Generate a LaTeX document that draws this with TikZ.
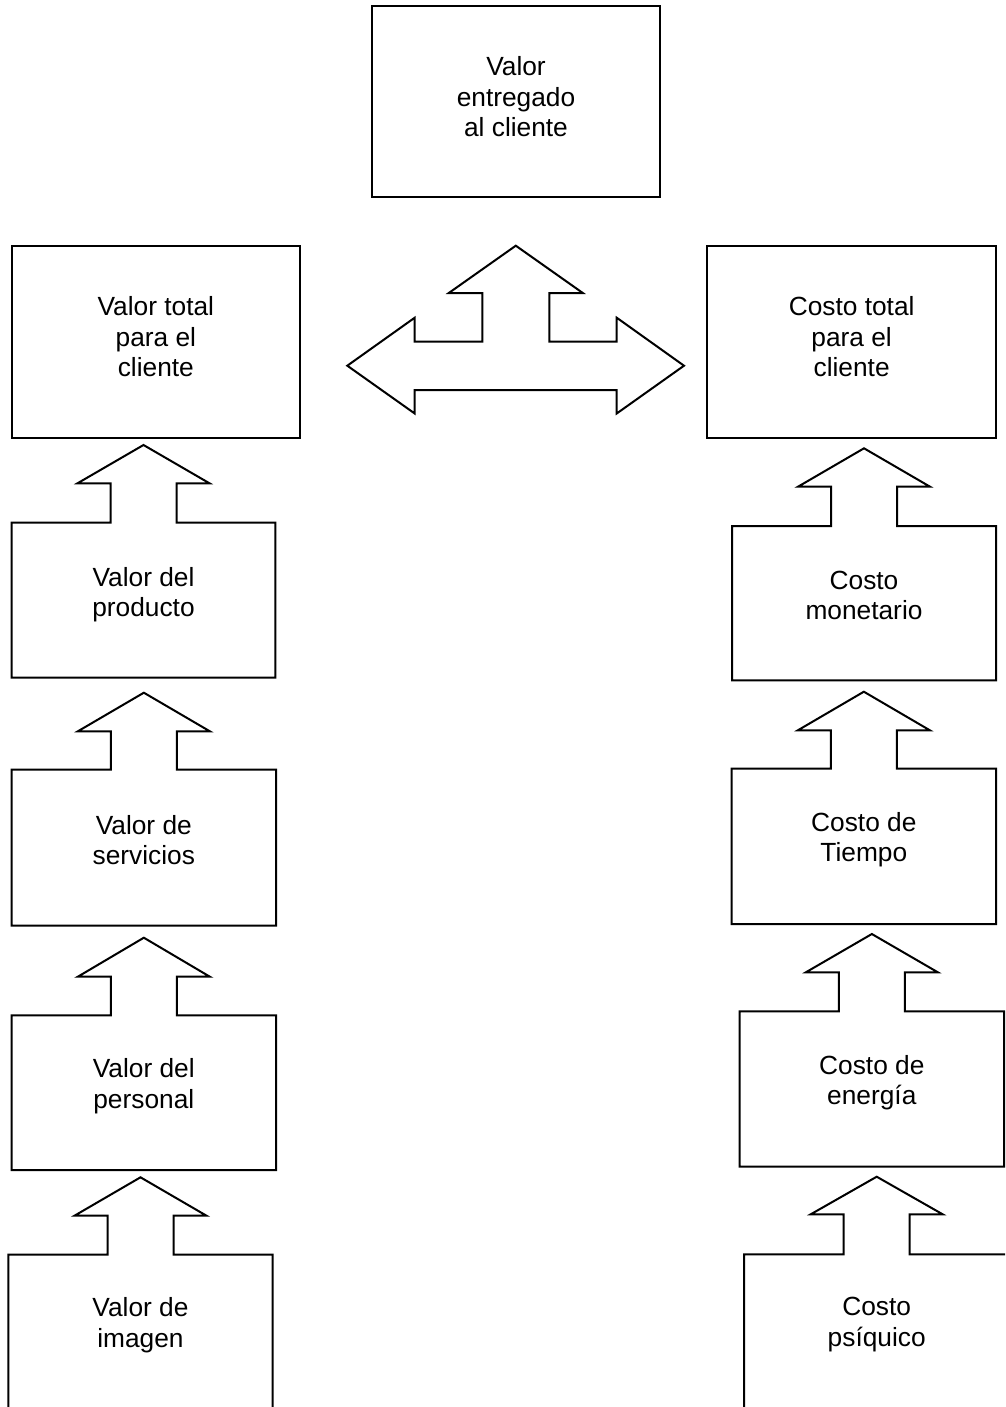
\documentclass[tikz,border=0pt]{standalone}
\usepackage{fontspec}
\setmainfont{Liberation Sans}
\tikzset{
  outline/.style={draw=black, line width=2pt, fill=white},
  plainbox/.style={outline, rectangle, inner sep=0pt, outer sep=0pt},
  lbl/.style={align=center, inner sep=0pt, font=\fontsize{26.3}{30.5}\selectfont},
}
% Box with an up-pointing arrow on top: left, top, right, bottom, tip y, head base y
\newcommand{\upcallout}[6]{%
  \pgfmathsetmacro\clcx{(#1+#3)/2}%
  \draw[outline] (#1,#4) -- (#1,#2) -- ({\clcx-33},#2) -- ({\clcx-33},#6)
    -- ({\clcx-66},#6) -- (\clcx,#5) -- ({\clcx+66},#6) -- ({\clcx+33},#6)
    -- ({\clcx+33},#2) -- (#3,#2) -- (#3,#4) -- cycle;
}
\begin{document}
\begin{tikzpicture}[x=1pt, y=-1pt]
\useasboundingbox (0,0) rectangle (1005,1407);
\begin{scope}
\clip (0,0) rectangle (1005,1407);

% top box
\node[plainbox, minimum width=288, minimum height=191] (entregado) at (516,101.5) {};
\node[lbl] (t-entregado) at (516,97) {Valor\\entregado\\al cliente};

% totals
\node[plainbox, minimum width=288.3, minimum height=192] (vtotal) at (155.85,341.7) {};
\node[lbl] (t-vtotal) at (155.85,337) {Valor total\\para el\\cliente};
\node[plainbox, minimum width=288.7, minimum height=192] (ctotal) at (851.65,341.7) {};
\node[lbl] (t-ctotal) at (851.65,337) {Costo total\\para el\\cliente};

% central three-way arrow
\draw[outline] (515.8,245.7) -- (582.8,293) -- (549.3,293) -- (549.3,341.7)
  -- (616.7,341.7) -- (616.7,317.7) -- (684,365.7) -- (616.7,413.5)
  -- (616.7,390) -- (414.7,390) -- (414.7,413.5) -- (347.3,365.7)
  -- (414.7,317.7) -- (414.7,341.7) -- (482.3,341.7) -- (482.3,293)
  -- (448.8,293) -- cycle;
\coordinate (hub) at (515.8,365.7);

% value column
\upcallout{11.7}{522.7}{275.3}{677.7}{445}{483.3}
\node[lbl] (producto) at (143.5,594.5) {Valor del\\producto};
\upcallout{11.7}{769.7}{276}{925.5}{692.7}{731.3}
\node[lbl] (servicios) at (143.8,840) {Valor de\\servicios};
\upcallout{11.7}{1015.3}{276}{1170}{937.7}{976.7}
\node[lbl] (personal) at (143.8,1086) {Valor del\\personal};
\upcallout{8.3}{1254.7}{272.7}{1460}{1177.3}{1215.7}
\node[lbl] (imagen) at (140.5,1325) {Valor de\\imagen};

% cost column
\upcallout{732}{526}{996}{680.3}{448.3}{486.7}
\node[lbl] (monetario) at (864,595.5) {Costo\\monetario};
\upcallout{731.7}{768.7}{996}{924}{691.7}{730.3}
\node[lbl] (tiempo) at (863.8,839.5) {Costo de\\Tiempo};
\upcallout{739.7}{1011.3}{1004}{1166.7}{934}{972.3}
\node[lbl] (energia) at (871.8,1082.5) {Costo de\\energía};
\upcallout{744}{1254.3}{1009.4}{1460}{1176.7}{1214.3}
\node[lbl] (psiquico) at (876.7,1324.5) {Costo\\psíquico};
\end{scope}
\end{tikzpicture}
\end{document}
